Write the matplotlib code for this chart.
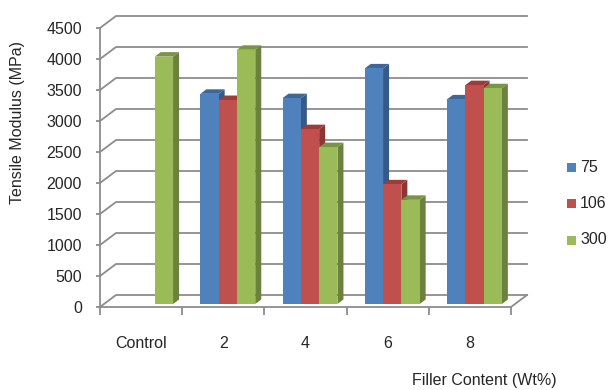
import matplotlib
matplotlib.use("Agg")
import matplotlib.pyplot as plt
from matplotlib.patches import Polygon, Rectangle

plt.rcParams['font.family'] = ['Liberation Sans', 'DejaVu Sans']

categories = ["Control", "2", "4", "6", "8"]
series = ["75", "106", "300"]
mod_75 = [None, 3390, 3320, 3800, 3300]
mod_106 = [None, 3290, 2820, 1930, 3530]
mod_300 = [3990, 4100, 2530, 1680, 3480]
yticks = list(range(0, 5000, 500))

face = ["#4F81BD", "#C0504D", "#9BBB59"]
side = ["#35598A", "#8C3533", "#6B823C"]
top = ["#3E6699", "#9E3C39", "#7A9446"]
grid = "#8C8C8C"
txt = "#262626"

W, H = 611, 390
fig = plt.figure(figsize=(W / 100, H / 100), dpi=100)
ax = fig.add_axes([100 / W, (H - 307) / H, 411 / W, 279 / H])
ax.set_xlim(-0.5, 4.5)
ax.set_ylim(0, 4500)
sx = 411 / 5.0      # px per category
sy = 279 / 4500.0   # px per MPa

def px(dx, dy):
    return dx / sx, dy / sy

# back wall and side wall gridlines
wx, wy = px(16, 12)
for t in yticks:
    ax.plot([-0.5, -0.5 + wx, 4.5 + wx], [t, t + wy, t + wy], color=grid,
            lw=1.3, clip_on=False, zorder=1)
ax.plot([4.5, 4.5 + wx], [0, wy], color=grid, lw=1.3, clip_on=False, zorder=1)

# bars with a fake depth
bw = 18.3 / sx
shx, shy = px(4.5, 3)
ddx, ddy = px(6, 4.5)
for j, vals in enumerate([mod_75, mod_106, mod_300]):
    for i, v in enumerate(vals):
        if v is None:
            continue
        x0 = i - 1.5 * bw + j * bw + shx
        b = shy
        z = 3 + i * 3 + j
        ax.add_patch(Polygon([(x0 + bw, b), (x0 + bw + ddx, b + ddy),
                              (x0 + bw + ddx, b + v + ddy), (x0 + bw, b + v)],
                             closed=True, fc=side[j], ec="none", zorder=z, clip_on=False))
        ax.add_patch(Polygon([(x0, b + v), (x0 + bw, b + v),
                              (x0 + bw + ddx, b + v + ddy), (x0 + ddx, b + v + ddy)],
                             closed=True, fc=top[j], ec="none", zorder=z, clip_on=False))
        ax.add_patch(Rectangle((x0, b), bw, v, fc=face[j], ec="none",
                               zorder=z + 0.5, clip_on=False))

for s in ["top", "right"]:
    ax.spines[s].set_visible(False)
for s in ["left", "bottom"]:
    ax.spines[s].set_color(grid)
    ax.spines[s].set_linewidth(1.3)
    ax.spines[s].set_zorder(2)

ax.set_yticks(yticks)
ax.set_yticklabels([str(t) for t in yticks])
ax.tick_params(axis="y", length=3, color=grid, width=1.3, labelsize=11.5,
               pad=10, labelcolor=txt)
ax.set_xticks([i - 0.5 for i in range(6)])
ax.set_xticklabels([])
ax.tick_params(axis="x", length=6, color=grid, width=1.3)
for i, c in enumerate(categories):
    ax.text(i, -36 / sy, c, ha="center", va="center", fontsize=11.5,
            color=txt, clip_on=False)

fig.text(18 / W, 1 - 123 / H, "Tensile Modulus (MPa)", rotation=90,
         ha="center", va="center", fontsize=11.5, color=txt)
fig.text(484 / W, 1 - 381 / H, "Filler Content (Wt%)", ha="center",
         va="center", fontsize=11.5, color=txt)

# legend
for j, name in enumerate(series):
    yc = 1 - (167 + 36.5 * j) / H
    fig.patches.append(Rectangle((567 / W, yc - 4.5 / H), 9 / W, 9 / H,
                                 fc=face[j], ec="none",
                                 transform=fig.transFigure, figure=fig))
    fig.text(580 / W, yc, name, ha="left", va="center", fontsize=11.5,
             color=txt)

fig.savefig("out.png", dpi=100)
